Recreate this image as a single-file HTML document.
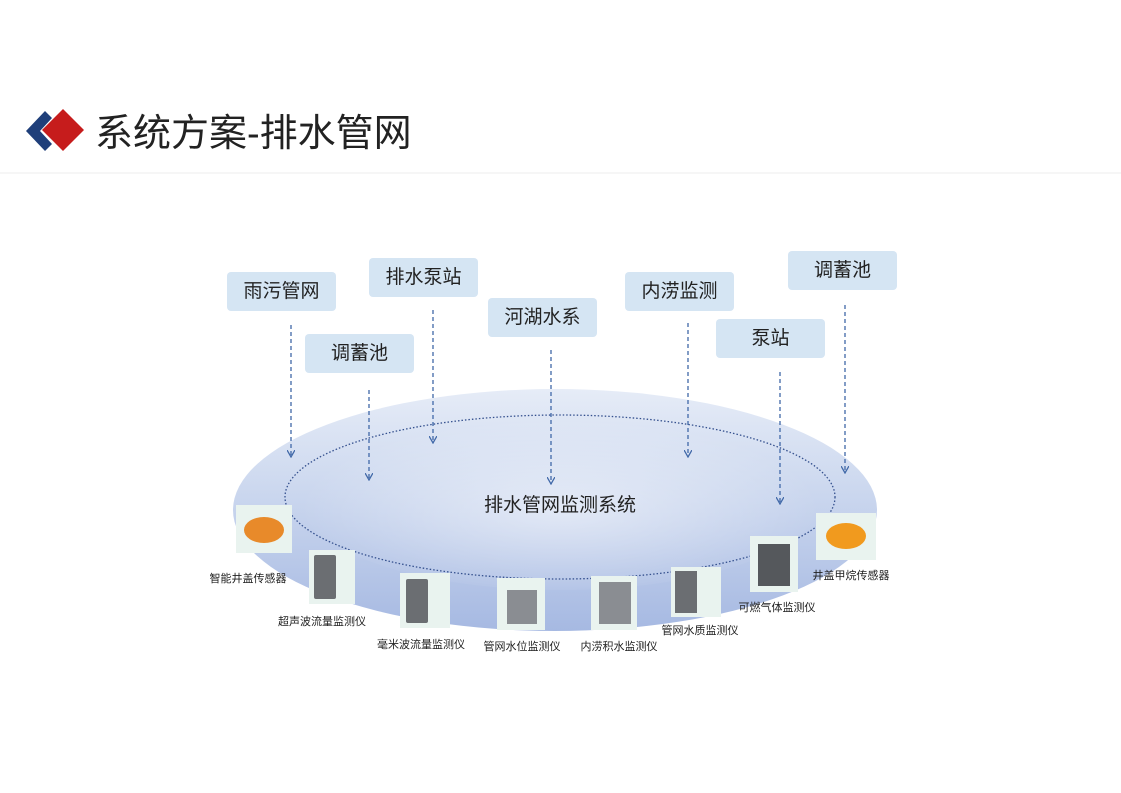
<!DOCTYPE html>
<html><head><meta charset="utf-8"><style>
body{margin:0;width:1121px;height:793px;background:#fff;position:relative;overflow:hidden;font-family:"Liberation Sans","Noto Sans CJK SC",sans-serif}
.t{position:absolute;left:95px;top:104px;font-size:38px;color:#222;line-height:60px}
.lb{position:absolute;width:109px;height:39px;background:#d5e5f3;border-radius:4px;font-size:19px;color:#222;text-align:center;line-height:39px}
.d{position:absolute;background:#e9f3ef;}
.cap{position:absolute;font-size:11px;color:#222;white-space:nowrap;transform:translateX(-50%)}
</style></head><body>
<svg width="1121" height="793" style="position:absolute;left:0;top:0">
<defs>
<linearGradient id="g" x1="0" y1="0" x2="0" y2="1">
<stop offset="0" stop-color="#e6ecf7"/><stop offset="0.35" stop-color="#d0dbf0"/><stop offset="1" stop-color="#a6b9e2"/>
</linearGradient>
<radialGradient id="h" cx="0.5" cy="0.55" r="0.5">
<stop offset="0" stop-color="#ffffff" stop-opacity="0.5"/><stop offset="1" stop-color="#ffffff" stop-opacity="0"/>
</radialGradient>
<marker id="a" markerWidth="8" markerHeight="8" refX="7" refY="4" orient="auto" markerUnits="userSpaceOnUse"><path d="M0,0 L7,4 L0,8" fill="none" stroke="#4068a8" stroke-width="1.3"/></marker>
</defs>
<polygon points="26,131 45,111 52,118 40,131 52,144 45,151" fill="#1f3f7a"/>
<polygon points="63,109 84,130 63,151 42,130" fill="#c61c1c"/>
<line x1="0" y1="173" x2="1121" y2="173" stroke="#eee" stroke-width="1"/>
<ellipse cx="555" cy="510" rx="322" ry="121" fill="url(#g)"/>
<ellipse cx="560" cy="500" rx="260" ry="90" fill="url(#h)"/>
<ellipse cx="560" cy="497" rx="275" ry="82" fill="none" stroke="#34508e" stroke-width="1.3" stroke-dasharray="1.5 2"/>
<g stroke="#4068a8" stroke-width="1.3" stroke-dasharray="4 3" marker-end="url(#a)">
<line x1="291" y1="325" x2="291" y2="457"/>
<line x1="369" y1="390" x2="369" y2="480"/>
<line x1="433" y1="310" x2="433" y2="443"/>
<line x1="551" y1="350" x2="551" y2="484"/>
<line x1="688" y1="323" x2="688" y2="457"/>
<line x1="780" y1="372" x2="780" y2="504"/>
<line x1="845" y1="305" x2="845" y2="473"/>
</g>
<text x="560" y="511" font-size="19" text-anchor="middle" fill="#222" font-family="Liberation Sans, Noto Sans CJK SC, sans-serif">排水管网监测系统</text>
</svg>
<div class="t">系统方案-排水管网</div>
<div class="lb" style="left:227px;top:272px">雨污管网</div>
<div class="lb" style="left:305px;top:334px">调蓄池</div>
<div class="lb" style="left:369px;top:258px">排水泵站</div>
<div class="lb" style="left:488px;top:298px">河湖水系</div>
<div class="lb" style="left:625px;top:272px">内涝监测</div>
<div class="lb" style="left:716px;top:319px">泵站</div>
<div class="lb" style="left:788px;top:251px">调蓄池</div>

<div class="d" style="left:236px;top:505px;width:56px;height:48px"><div style="position:absolute;left:8px;top:12px;width:40px;height:26px;border-radius:50%;background:#e88a2a"></div></div>
<div class="d" style="left:309px;top:550px;width:46px;height:54px"><div style="position:absolute;left:5px;top:5px;width:22px;height:44px;background:#6b6e72;border-radius:2px"></div></div>
<div class="d" style="left:400px;top:573px;width:50px;height:55px"><div style="position:absolute;left:6px;top:6px;width:22px;height:44px;background:#6b6e72;border-radius:2px"></div></div>
<div class="d" style="left:497px;top:578px;width:48px;height:52px"><div style="position:absolute;left:10px;top:12px;width:30px;height:34px;background:#8a8d92"></div></div>
<div class="d" style="left:591px;top:576px;width:46px;height:54px"><div style="position:absolute;left:8px;top:6px;width:32px;height:42px;background:#8a8d92"></div></div>
<div class="d" style="left:671px;top:567px;width:50px;height:50px"><div style="position:absolute;left:4px;top:4px;width:22px;height:42px;background:#6b6e72"></div></div>
<div class="d" style="left:750px;top:536px;width:48px;height:56px"><div style="position:absolute;left:8px;top:8px;width:32px;height:42px;background:#55585c"></div></div>
<div class="d" style="left:816px;top:513px;width:60px;height:47px"><div style="position:absolute;left:10px;top:10px;width:40px;height:26px;border-radius:50%;background:#f19a1e"></div></div>

<div class="cap" style="left:248px;top:570px">智能井盖传感器</div>
<div class="cap" style="left:322px;top:613px">超声波流量监测仪</div>
<div class="cap" style="left:421px;top:636px">毫米波流量监测仪</div>
<div class="cap" style="left:522px;top:638px">管网水位监测仪</div>
<div class="cap" style="left:619px;top:638px">内涝积水监测仪</div>
<div class="cap" style="left:700px;top:622px">管网水质监测仪</div>
<div class="cap" style="left:777px;top:599px">可燃气体监测仪</div>
<div class="cap" style="left:851px;top:567px">井盖甲烷传感器</div>
</body></html>
